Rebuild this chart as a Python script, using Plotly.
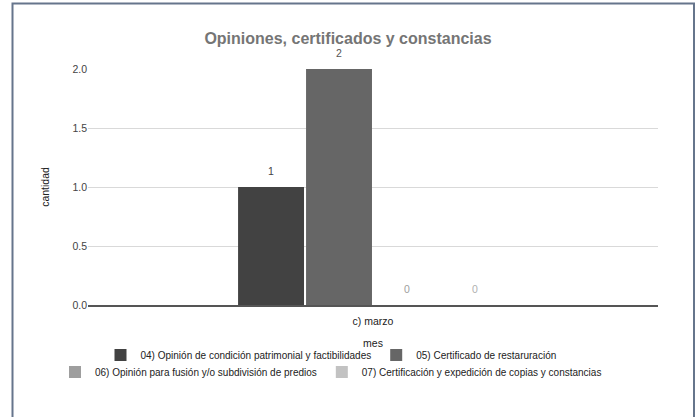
import plotly.graph_objects as go

categories = ["c) marzo"]
series_names = [
    "04) Opinión de condición patrimonial y factibilidades",
    "05) Certificado de restaruración",
    "06) Opinión para fusión y/o subdivisión de predios",
    "07) Certificación y expedición de copias y constancias",
]
series_values = [[1], [2], [0], [0]]
series_colors = ["#424242", "#666666", "#9e9e9e", "#c2c2c2"]
label_colors = ["#444444", "#555555", "#9e9e9e", "#b0b0b0"]
legend_ids = ["legend", "legend", "legend2", "legend2"]

FONT = "Liberation Sans, Arial, sans-serif"
GAP = 0.523

fig = go.Figure()
for i, (name, vals, col, lg) in enumerate(zip(series_names, series_values, series_colors, legend_ids)):
    fig.add_trace(go.Bar(
        x=categories, y=vals, name=name, marker=dict(color=col, line=dict(width=0)),
        legend=lg, offsetgroup=str(i),
    ))
# value labels, grouped like the bars
for i, (vals, lcol) in enumerate(zip(series_values, label_colors)):
    fig.add_trace(go.Scatter(
        x=categories, y=vals, mode="markers+text", text=[str(v) for v in vals],
        textposition="top center", marker=dict(size=14, opacity=0),
        textfont=dict(color=lcol, size=10.5, family=FONT), cliponaxis=False,
        showlegend=False, hoverinfo="skip", offsetgroup=str(i),
    ))

W, H = 696, 417
ml, mr, mt, mb = 88, 38, 69, 112
pw, ph = W - ml - mr, H - mt - mb

def px_x(p):
    return (p - ml) / pw

def px_y(p):
    return (H - mb - p) / ph

legend_common = dict(orientation="h", xanchor="center", yanchor="middle",
                     font=dict(size=10, color="#222222", family=FONT), itemwidth=30,
                     tracegroupgap=0, bgcolor="rgba(0,0,0,0)")

fig.update_layout(
    width=W, height=H,
    margin=dict(l=ml, r=mr, t=mt, b=mb),
    paper_bgcolor="white", plot_bgcolor="white",
    font=dict(family=FONT, size=10.5, color="#444444"),
    title=dict(text="<b>Opiniones, certificados y constancias</b>", x=0.5, xanchor="center",
               y=1 - 38 / H, yanchor="middle",
               font=dict(size=16, color="#757575", family=FONT)),
    barmode="group", bargap=GAP, bargroupgap=0.03,
    scattermode="group", scattergap=GAP,
    showlegend=True,
    legend=dict(x=px_x(331), y=px_y(355), **legend_common),
    legend2=dict(x=px_x(331), y=px_y(372), **legend_common),
    xaxis=dict(title=dict(text="mes", font=dict(size=10.5, color="#222222"), standoff=13),
               showgrid=False, showline=True, linecolor="#555555", linewidth=1.5,
               ticks="", ticklabelstandoff=6, tickfont=dict(size=10.5, color="#222222")),
    yaxis=dict(title=dict(text="cantidad", font=dict(size=10.5, color="#222222"), standoff=20),
               range=[0, 2], dtick=0.5, tickformat=".1f",
               gridcolor="#d9d9d9", gridwidth=1, zeroline=False,
               showline=False, ticks="", tickfont=dict(size=10.5, color="#444444")),
    shapes=[dict(type="rect", xref="paper", yref="paper",
                 x0=px_x(12.5), x1=px_x(694), y0=px_y(420), y1=px_y(3.5),
                 line=dict(color="#66758c", width=2), fillcolor="rgba(0,0,0,0)", layer="above")],
)

fig.write_html("out.html", config={"displayModeBar": False},
               post_script="document.body.style.margin='0';document.body.style.overflow='hidden';")
